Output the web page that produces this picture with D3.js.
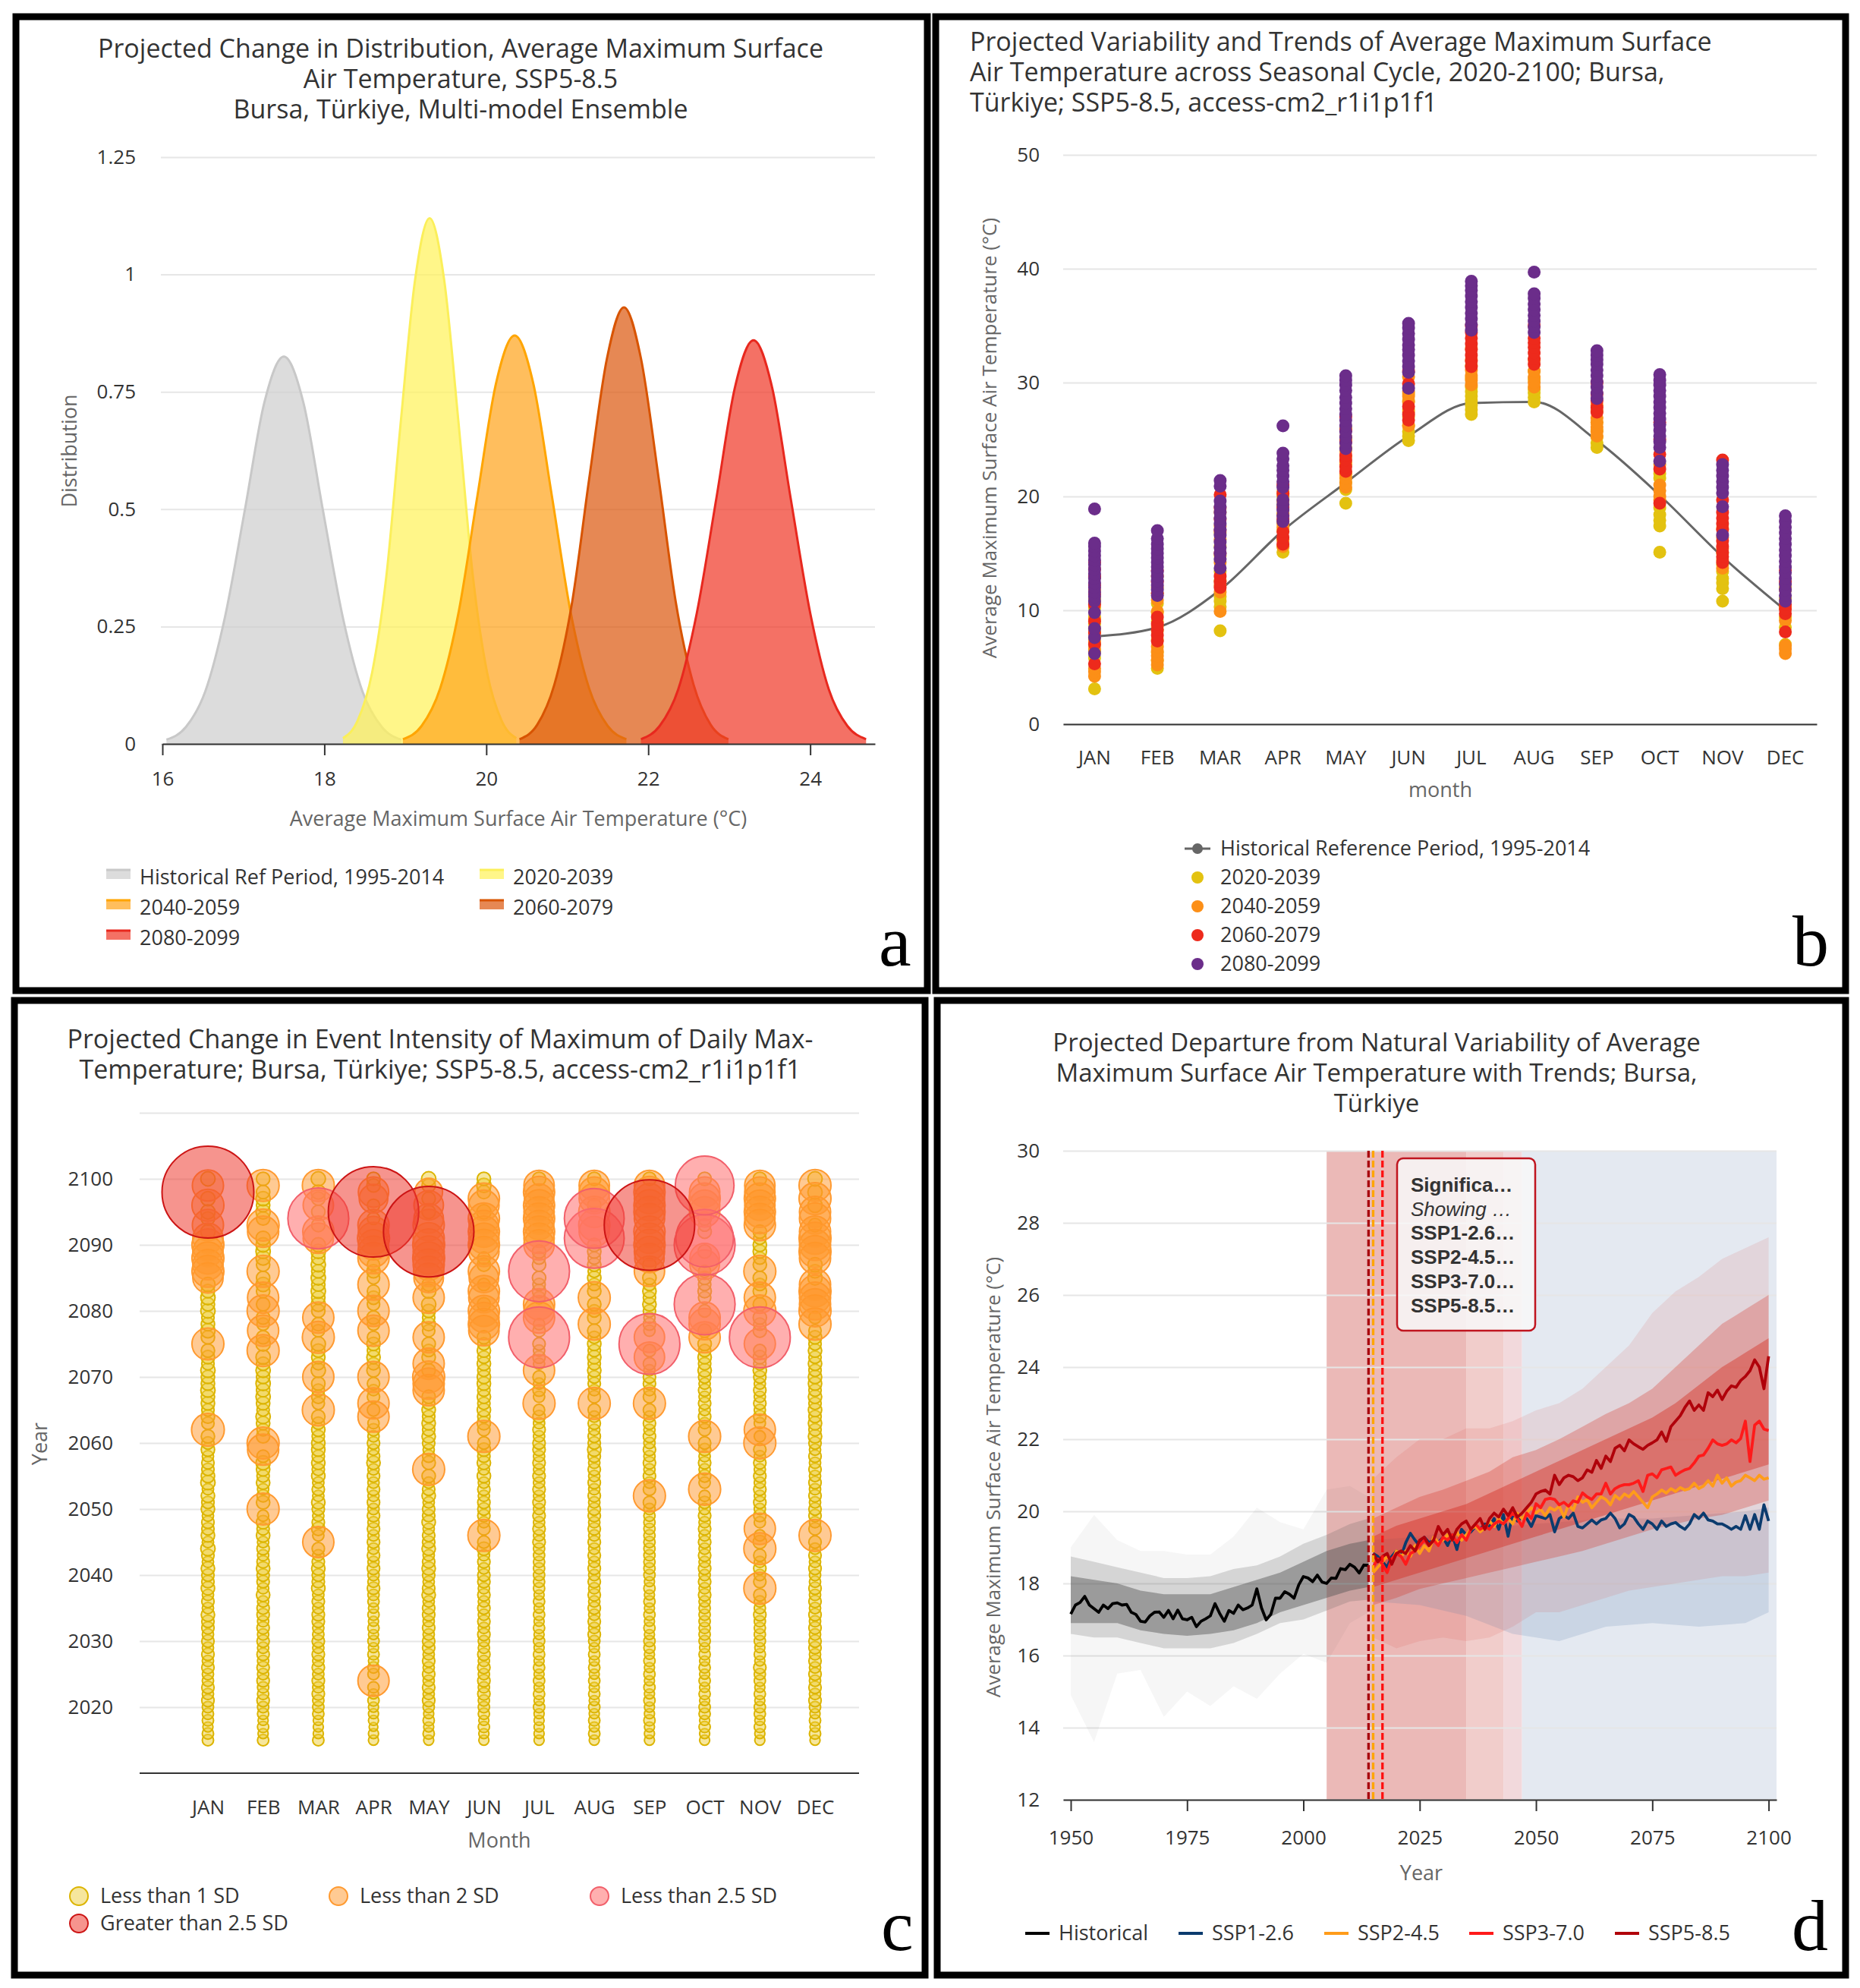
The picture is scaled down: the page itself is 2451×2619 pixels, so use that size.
<!DOCTYPE html>
<html>
<head>
<meta charset="utf-8">
<title>Bursa, Türkiye – Average Maximum Surface Air Temperature</title>
<script src="https://cdn.jsdelivr.net/npm/d3@7/dist/d3.min.js"></script>
<style>
html,body{margin:0;padding:0;background:#ffffff;}
svg{display:block;}
</style>
</head>
<body>
<svg id="chart" width="2451" height="2619" viewBox="0 0 2451 2619"></svg>
<script>
// ============================ DATA ============================
// ---- Panel a: distribution curves (temperature °C, density)
const distNames = ["Historical Ref Period, 1995-2014","2020-2039","2040-2059","2060-2079","2080-2099"];
const distTempHist = [16.05,16.29,16.53,16.77,17.02,17.26,17.5,17.74,17.98,18.23,18.47,18.71,18.95];
const distDensHist = [0.009,0.036,0.112,0.268,0.500,0.728,0.825,0.728,0.500,0.268,0.112,0.036,0.009];
const distTemp2020 = [18.23,18.41,18.59,18.77,18.94,19.12,19.3,19.48,19.66,19.83,20.01,20.19,20.37];
const distDens2020 = [0.012,0.049,0.152,0.364,0.679,0.988,1.12,0.988,0.679,0.364,0.152,0.049,0.012];
const distTemp2040 = [18.97,19.2,19.43,19.66,19.89,20.12,20.35,20.58,20.81,21.04,21.27,21.5,21.73];
const distDens2040 = [0.010,0.038,0.118,0.282,0.528,0.768,0.87,0.768,0.528,0.282,0.118,0.038,0.010];
const distTemp2060 = [20.41,20.63,20.84,21.06,21.27,21.49,21.7,21.91,22.13,22.34,22.56,22.77,22.99];
const distDens2060 = [0.010,0.041,0.126,0.302,0.564,0.821,0.93,0.821,0.564,0.302,0.126,0.041,0.010];
const distTemp2080 = [21.91,22.14,22.37,22.6,22.84,23.07,23.3,23.53,23.76,24.0,24.23,24.46,24.69];
const distDens2080 = [0.010,0.038,0.116,0.279,0.522,0.759,0.86,0.759,0.522,0.279,0.116,0.038,0.010];
const distTicksX = [16,18,20,22,24];
const distTicksY = [0,0.25,0.5,0.75,1,1.25];

// ---- Panel b: seasonal cycle
const months = ["JAN","FEB","MAR","APR","MAY","JUN","JUL","AUG","SEP","OCT","NOV","DEC"];
const histRef = [7.7,8.5,11.8,17.0,21.2,25.3,28.2,28.3,24.9,20.1,14.7,10.0];
const periodNames = ["2020-2039","2040-2059","2060-2079","2080-2099"];
const dots2020 = [
 [3.1,5.8,6.4,7.0,7.6,8.1,8.8,9.4,10.2,11.0],
 [4.9,5.6,6.3,7.4,8.2,9.0,9.8,10.6,11.5],
 [8.2,10.3,10.8,11.2,12.6,13.4,14.8,15.6,16.8],
 [15.1,15.6,16.2,17.0,17.8,18.5,19.2,20.0],
 [19.4,20.6,21.2,22.0,22.8,23.5,24.3,25.0,26.0],
 [24.9,25.3,25.7,26.2,27.0,27.6,28.4,29.0],
 [27.2,27.6,28.0,28.4,28.8,29.2,29.6,30.4,31.5],
 [28.3,28.7,29.1,29.4,30.3,31.0],
 [24.3,24.7,25.2,25.8,26.5,27.5],
 [15.1,17.4,17.9,18.4,19.0,21.6,22.0],
 [10.8,11.9,12.4,12.8,13.4,14.0,15.0],
 [7.0,8.5,9.4,10.3,11.0,12.0]
];
const dots2040 = [
 [4.2,4.6,4.9,6.6,7.3,8.4,9.2,10.6,11.8,12.9],
 [5.2,5.6,6.0,6.4,6.8,8.6,9.9,10.9,12.0,13.0],
 [9.9,11.6,12.2,14.2,16.2,17.4,18.6],
 [15.6,16.2,17.3,17.6,18.4,19.6,20.4],
 [20.8,21.2,21.6,22.0,23.0,24.0,25.2],
 [26.2,27.4,28.3,28.8,29.2,30.5],
 [29.8,30.2,30.6,31.1,32.0,33.0],
 [29.6,30.0,30.5,31.0,32.0],
 [25.3,25.7,26.1,26.5,26.9,28.0],
 [19.7,20.0,20.5,21.0,22.8],
 [13.7,14.4,15.4,16.4,17.2],
 [6.2,6.6,6.9,9.1,10.2,11.8]
];
const dots2060 = [
 [5.3,7.0,8.0,9.05,10.5,11.4,12.2,13.0,13.6,14.2],
 [7.3,7.8,8.3,8.8,9.4,11.5,12.5,13.5],
 [12.0,12.5,13.0,15.0,17.0,18.0,19.0,20.15],
 [15.8,16.4,16.9,18.0,19.0,20.25,21.0],
 [22.2,22.6,23.2,23.6,24.8,25.8,27.0],
 [26.7,27.2,27.9,29.9,31.0],
 [31.4,31.9,32.4,32.9,33.4,33.9,34.4,35.0],
 [31.6,32.1,32.6,33.1,33.5,33.9,35.0],
 [27.4,27.8,28.4,29.0,30.0],
 [19.4,22.4,23.7,25.0,26.5],
 [14.2,14.7,15.1,15.6,16.1,17.1,17.6,18.1,18.6,19.7,23.2],
 [8.1,9.7,10.1,10.5,12.5,13.5]
];
const dots2080 = [
 [6.2,7.6,8.4,9.8,10.8,11.2,11.6,12.0,12.4,12.8,13.2,13.6,14.0,14.4,14.8,15.2,15.6,15.9,18.9],
 [11.3,11.8,12.2,12.6,13.0,13.4,13.8,14.2,14.6,15.0,15.4,15.8,16.3,17.0],
 [13.7,14.5,15.0,15.5,16.0,16.6,17.1,17.6,18.1,18.6,19.1,19.6,20.9,21.4],
 [17.8,18.3,18.8,19.3,19.7,20.8,21.3,21.8,22.3,22.7,23.3,23.8,26.2],
 [24.2,24.7,25.2,25.7,26.2,26.7,27.2,27.7,28.2,28.7,29.3,29.8,30.2,30.6],
 [29.5,30.9,31.4,31.9,32.4,32.9,33.3,33.8,34.3,34.8,35.2],
 [34.6,35.1,35.6,36.1,36.6,37.1,37.6,38.1,38.5,38.9],
 [34.4,34.9,35.4,35.9,36.4,36.9,37.4,37.8,39.7],
 [28.6,29.1,29.6,30.1,30.6,31.1,31.6,32.0,32.4,32.8],
 [23.1,24.3,24.8,25.3,25.8,26.3,26.8,27.3,27.8,28.3,28.8,29.3,29.8,30.2,30.7],
 [16.6,19.1,20.3,20.8,21.3,21.8,22.3,22.8],
 [10.8,11.3,11.8,12.3,12.8,13.3,13.8,14.3,14.8,15.3,15.8,16.3,16.8,17.3,17.8,18.3]
];
const seasTicksY = [0,10,20,30,40,50];

// ---- Panel c: event intensity bubbles (years 2015..2100)
const sdClasses = ["Less than 1 SD","Less than 2 SD","Less than 2.5 SD","Greater than 2.5 SD"];
const eventFirstYear = 2015;
const eventLastYear = 2100;
// intensity of the small (< 1 SD) events, one digit per year 2015..2100 (digit/10)
const minorIntensity = [
 "55455 5656556565 6566756576 6756857665 7675876657 6786767787 7867787876 8787887878 8888788888 8",
 "54545 5655656565 6565665756 6765657675 6765767866 7767867878 7878787867 8787878788 8878787878 7",
 "54445 5565656565 6556656576 6765685765 6756576767 7676786767 7867787678 7878787878 8787878788 8",
 "44344 4545455454 5454545565 5656565656 5656565765 6565665656 6767676767 7676767676 7767676767 7",
 "45454 5656565656 6565665765 6765766576 6576578765 6767676767 7767677676 7878787878 8787878787 8",
 "44545 5565656565 5656565656 6565765656 6656575767 6767676767 7676767676 7767676767 7878787878 7",
 "44444 5454545454 5454545455 5555565656 5656565656 6565656565 6656565656 6767676767 7676767676 7",
 "45454 5454545454 5656565656 5656565656 6565656567 6656565656 6767676767 6767676767 7676767676 7",
 "44454 4545454545 5454545454 5555555555 5656565656 5656565656 6565656565 6767676767 7676767676 7",
 "44545 5454545454 5555555656 5656565656 5656565656 6565656565 6767676767 6767676767 7676767676 7",
 "44545 5454556454 5555655656 5656575656 5656565656 6565656565 6767676767 6767676767 7676767676 7",
 "45454 5656565656 6565656565 5656565656 6565656565 6767676767 7676767676 7878787878 8787878787 8"
];
// larger events per month: [year, class index (1..3), intensity]
const majorEvents = [
 [[2099,1,3.8],[2096,1,4.0],[2093,1,3.8],[2091,1,3.6],[2090,1,4.0],[2089,1,3.6],[2088,1,4.0],[2087,1,3.6],[2086,1,4.0],[2085,1,3.6],[2075,1,4.0],[2062,1,4.2],[2098,3,33]],
 [[2099,1,4.0],[2093,1,4.0],[2092,1,3.8],[2086,1,4.0],[2082,1,3.8],[2080,1,4.0],[2077,1,3.8],[2074,1,4.0],[2060,1,4.0],[2059,1,3.8],[2050,1,4.0]],
 [[2099,1,4.0],[2096,1,3.6],[2092,1,3.8],[2091,1,3.6],[2079,1,3.8],[2076,1,4.0],[2070,1,3.8],[2065,1,4.0],[2045,1,3.8],[2094,2,14.5]],
 [[2098,1,3.6],[2097,1,3.2],[2093,1,3.8],[2092,1,3.6],[2091,1,4.0],[2090,1,3.6],[2089,1,3.8],[2088,1,3.8],[2084,1,3.8],[2080,1,3.8],[2077,1,3.8],[2070,1,3.8],[2066,1,3.8],[2064,1,3.8],[2024,1,3.8],[2095,3,32]],
 [[2098,1,3.0],[2096,1,3.4],[2094,1,3.4],[2093,1,3.8],[2091,1,3.8],[2090,1,4.0],[2089,1,3.8],[2088,1,4.0],[2087,1,3.8],[2086,1,3.6],[2085,1,3.4],[2082,1,3.8],[2076,1,3.8],[2072,1,3.8],[2070,1,4.0],[2069,1,3.8],[2068,1,3.8],[2056,1,4.0],[2092,3,32]],
 [[2097,1,3.8],[2096,1,3.6],[2094,1,3.8],[2093,1,3.4],[2092,1,3.8],[2091,1,3.6],[2090,1,3.8],[2089,1,3.6],[2086,1,3.8],[2085,1,3.4],[2083,1,3.8],[2082,1,3.6],[2080,1,3.8],[2079,1,3.6],[2078,1,3.8],[2077,1,3.6],[2061,1,4.0],[2046,1,4.0]],
 [[2099,1,3.6],[2098,1,3.8],[2097,1,3.4],[2096,1,3.8],[2095,1,3.6],[2094,1,3.8],[2093,1,3.4],[2092,1,3.8],[2091,1,3.6],[2090,1,3.6],[2081,1,3.8],[2080,1,3.6],[2079,1,3.8],[2071,1,3.8],[2066,1,4.0],[2086,2,14.5],[2076,2,14.5]],
 [[2099,1,3.6],[2098,1,3.6],[2097,1,3.6],[2095,1,3.8],[2093,1,3.8],[2092,1,3.6],[2082,1,4.0],[2078,1,4.0],[2066,1,4.0],[2094,2,14],[2091,2,14]],
 [[2099,1,3.6],[2098,1,3.8],[2097,1,3.6],[2096,1,3.8],[2095,1,3.8],[2094,1,3.6],[2092,1,3.8],[2091,1,3.6],[2090,1,3.8],[2089,1,3.6],[2088,1,3.4],[2086,1,3.6],[2076,1,3.6],[2073,1,3.6],[2066,1,4.0],[2052,1,4.0],[2093,3,32],[2075,2,14.5]],
 [[2098,1,3.6],[2097,1,3.8],[2096,1,3.6],[2095,1,3.6],[2088,1,3.4],[2087,1,3.4],[2079,1,3.8],[2078,1,3.8],[2076,1,3.8],[2061,1,4.0],[2053,1,4.0],[2099,2,13.5],[2091,2,13],[2090,2,14.5],[2081,2,14.5]],
 [[2099,1,3.6],[2098,1,3.6],[2097,1,3.8],[2096,1,3.6],[2095,1,3.8],[2094,1,3.6],[2093,1,3.8],[2086,1,4.0],[2082,1,3.8],[2080,1,4.0],[2075,1,3.8],[2062,1,3.8],[2060,1,4.0],[2047,1,3.8],[2044,1,4.0],[2038,1,4.0],[2076,2,14.5]],
 [[2099,1,4.0],[2097,1,4.0],[2095,1,3.8],[2094,1,3.8],[2092,1,3.8],[2091,1,4.0],[2090,1,3.8],[2089,1,4.0],[2088,1,3.8],[2084,1,3.8],[2083,1,4.0],[2082,1,3.8],[2081,1,3.8],[2080,1,4.0],[2078,1,4.0],[2046,1,4.0]]
];
const eventTicksY = [2020,2030,2040,2050,2060,2070,2080,2090,2100,2110];

// ---- Panel d: departure from natural variability
const histStart = 1950;
const histMean = [17.15,17.4,17.47,17.64,17.4,17.3,17.2,17.4,17.3,17.44,
 17.46,17.4,17.42,17.2,17.14,16.95,16.93,17.1,17.2,17.21,
 17.06,17.25,17.02,17.26,17.02,16.99,17.06,16.8,16.95,17.02,
 17.1,17.44,17.17,16.95,17.25,17.17,17.4,17.27,17.32,17.4,
 17.85,17.32,16.99,17.14,17.59,17.59,17.77,17.7,17.59,17.96,
 18.19,18.15,18.05,18.23,18.04,18.0,18.15,18.14,18.41,18.38,
 18.53,18.45,18.29,18.51,18.5];
const sspStart = 2015;
const ssp126 = [18.83,18.75,18.6,18.45,18.75, 18.9,18.75,19.13,19.39,19.2, 19.05,19.28,19.13,19.2,19.13,
 19.28,19.05,19.35,18.94,19.5, 19.35,19.43,19.58,19.5,19.65, 19.58,19.8,19.5,19.91,19.31,
 19.95,19.73,19.84,19.8,19.58, 19.88,19.84,19.8,19.91,19.43, 19.8,19.88,19.8,19.95,19.58,
 19.54,19.65,19.76,19.65,19.76, 19.8,19.95,19.8,19.54,19.65, 19.91,19.84,19.65,19.5,19.73,
 19.65,19.5,19.73,19.58,19.65, 19.69,19.58,19.5,19.65,19.91, 19.8,19.95,19.76,19.73,19.65,
 19.65,19.58,19.5,19.58,19.5, 19.88,19.5,19.91,19.5,20.18, 19.73];
const ssp245 = [18.3,18.45,18.6,18.75,18.6, 18.9,18.75,18.9,18.75,19.05, 18.83,19.05,18.9,19.28,19.13,
 19.2,19.35,19.2,19.43,19.2, 19.35,19.5,19.58,19.43,19.54, 19.73,19.58,19.8,19.65,19.8,
 19.65,19.95,19.8,19.95,20.1, 19.95,20.06,19.88,20.1,20.03, 20.14,19.84,20.18,20.03,20.4,
 20.25,20.33,20.1,20.25,20.4, 20.33,20.18,20.44,20.33,20.48, 20.4,20.55,20.4,20.25,20.1,
 20.4,20.48,20.59,20.51,20.63, 20.55,20.66,20.59,20.63,20.78, 20.63,20.7,20.85,20.7,21.0,
 20.78,20.93,20.7,20.81,20.85, 21.0,20.93,20.85,21.0,20.89, 20.93];
const ssp370 = [18.45,18.68,18.53,18.3,18.68, 18.83,18.75,18.53,18.83,18.9, 19.05,19.2,19.05,19.2,19.05,
 19.28,19.2,19.35,19.13,19.35, 19.2,19.5,19.65,19.5,19.58, 19.5,19.65,19.73,19.65,19.8,
 19.95,19.8,19.58,19.95,19.8, 20.21,20.1,20.33,20.36,20.33, 20.18,20.25,20.14,20.29,20.25,
 20.51,20.4,20.33,20.48,20.48, 20.78,20.48,20.63,20.7,20.74, 20.74,20.78,20.85,20.55,21.0,
 21.04,20.93,21.15,21.19,21.23, 21.0,21.08,21.15,21.19,21.34, 21.53,21.56,21.75,21.98,21.87,
 21.83,21.87,21.98,21.9,22.02, 22.5,21.38,22.39,22.5,22.28, 22.24];
const ssp585 = [18.83,18.6,18.75,18.83,18.53, 18.83,18.9,18.83,19.05,18.9, 19.2,19.28,19.05,19.2,19.58,
 19.35,19.5,19.2,19.5,19.65, 19.73,19.5,19.65,19.8,19.5, 19.8,19.95,19.84,20.06,19.88,
 20.1,19.84,19.95,20.1,20.25, 20.48,20.55,20.59,20.48,21.0, 20.74,20.93,21.0,20.96,20.85,
 20.93,21.15,21.08,21.41,21.19, 21.53,21.38,21.75,21.83,21.68, 21.98,21.87,21.79,21.72,21.83,
 21.9,21.98,22.2,21.94,22.35, 22.5,22.65,22.88,23.06,22.8, 22.95,22.8,23.29,23.18,23.36,
 23.1,23.33,23.48,23.44,23.63, 23.74,23.9,24.2,24.0,23.4, 24.3];
const scenarioNames = ["Historical","SSP1-2.6","SSP2-4.5","SSP3-7.0","SSP5-8.5"];
// ensemble spread (model members)
const histEnsYears = [1950,1955,1960,1965,1970,1975,1980,1985,1990,1995,2000,2005,2010,2014];
const histEnsOuterLo = [14.9,13.6,15.5,15.6,14.3,15.0,14.6,15.15,14.8,15.5,16.05,15.8,16.9,17.2];
const histEnsOuterHi = [19.0,19.9,19.2,18.9,18.9,18.8,18.8,19.3,20.1,19.7,19.5,20.6,20.7,20.4];
const histEnsInnerLo = [16.6,16.5,16.5,16.35,16.2,16.2,16.2,16.35,16.6,16.9,17.0,17.25,17.5,17.55];
const histEnsInnerHi = [18.75,18.6,18.45,18.3,18.15,18.15,18.2,18.4,18.5,18.75,19.1,19.35,19.65,19.8];
const histEnsCoreLo = [16.9,16.9,16.9,16.7,16.6,16.55,16.6,16.7,16.9,17.2,17.4,17.6,17.8,17.9];
const histEnsCoreHi = [18.2,18.1,18.0,17.8,17.7,17.7,17.7,17.9,18.1,18.3,18.6,18.9,19.1,19.2];
const futEnsYears = [2015,2020,2025,2030,2035,2040,2045,2050,2055,2060,2065,2070,2075,2080,2085,2090,2095,2100];
const futEnsOuterLo = [16.5,16.2,16.4,16.5,16.4,16.5,16.8,17.2,17.2,17.4,17.6,17.8,17.9,18.0,18.1,18.2,18.2,18.3];
const futEnsOuterHi = [20.9,21.5,22.0,22.0,22.3,22.3,22.5,22.8,23.0,23.4,24.0,24.6,25.5,26.1,26.5,27.0,27.3,27.6];
const futEnsInnerLo = [17.4,17.6,17.85,18.0,18.15,18.3,18.45,18.6,18.75,18.9,19.1,19.3,19.5,19.65,19.8,19.9,20.1,20.3];
const futEnsInnerHi = [19.8,20.1,20.4,20.6,20.85,21.1,21.5,21.7,22.0,22.35,22.7,23.0,23.4,24.0,24.6,25.2,25.6,26.0];
const futEnsCoreLo = [17.9,18.1,18.3,18.5,18.7,18.9,19.1,19.3,19.5,19.7,19.9,20.1,20.3,20.5,20.7,20.9,21.1,21.3];
const futEnsCoreHi = [19.3,19.6,19.8,20.0,20.2,20.5,20.8,21.1,21.4,21.7,22.0,22.3,22.6,23.0,23.5,24.0,24.4,24.8];
const lowEnsYears = [2015,2025,2035,2045,2055,2065,2075,2085,2095,2100];
const lowEnsLo = [17.5,17.4,17.1,16.6,16.4,16.8,16.9,16.8,16.9,17.2];
const lowEnsHi = [19.2,19.3,19.5,19.6,19.7,19.8,19.8,19.9,20.0,20.1];
const sigBandFrom = [2005,2035,2043,2047];
const sigBandTo = [2035,2043,2047,2101.7];
const emergenceYears = [2014,2015,2017];
const tooltipLines = ["Significa…","Showing …","SSP1-2.6…","SSP2-4.5…","SSP3-7.0…","SSP5-8.5…"];
const depTicksX = [1950,1975,2000,2025,2050,2075,2100];
const depTicksY = [12,14,16,18,20,22,24,26,28,30];

// ============================ DRAWING ============================
const FONT = "'Open Sans','Noto Sans','DejaVu Sans',sans-serif";
const svg = d3.select("#chart");
svg.append("rect").attr("width",2451).attr("height",2619).attr("fill","#ffffff");

function txt(sel, x, y, s, o) {
  o = o || {};
  const t = sel.append("text").attr("x",x).attr("y",y)
    .attr("font-family", o.family || FONT).attr("font-size", o.size || 26)
    .attr("fill", o.fill || "#333333").attr("text-anchor", o.anchor || "start")
    .attr("font-weight", o.weight || "normal").attr("font-style", o.style || "normal")
    .text(s);
  if (o.rotate) t.attr("transform", `rotate(-90 ${x} ${y})`);
  return t;
}
// multi-line title drawn as ONE text element with tspans
function title(sel, arr, x, y0, lh, anchor, size) {
  const t = sel.append("text").attr("font-family", FONT).attr("font-size", size)
    .attr("fill", "#333333").attr("text-anchor", anchor);
  arr.forEach((s, i) => t.append("tspan").attr("x", x).attr("y", y0 + i * lh).text(s));
  return t;
}
function styleTicks(g, size) {
  g.attr("font-family", null).attr("font-size", null);
  g.selectAll(".tick text").attr("font-family", FONT).attr("font-size", size || 26).attr("fill", "#333333");
}
function gridAxis(g, scale, ticks, x0, width, pad, fmt) {
  const a = g.append("g").attr("transform", `translate(${x0},0)`)
    .call(d3.axisLeft(scale).tickValues(ticks).tickSize(-width).tickPadding(pad).tickFormat(fmt));
  a.select(".domain").remove();
  a.selectAll(".tick line").attr("stroke", "#e6e6e6").attr("stroke-width", 2);
  styleTicks(a, 26);
  return a;
}

// ------------------------------------------------------------ Panel a
{
  const g = svg.append("g");
  const x = d3.scaleLinear().domain([16, 24.8]).range([214, 1153]);
  const y = d3.scaleLinear().domain([0, 1.25]).range([980, 207]);
  gridAxis(g, y, distTicksY, 212, 941, 33, d => String(d));

  const temps = [distTempHist, distTemp2020, distTemp2040, distTemp2060, distTemp2080];
  const dens = [distDensHist, distDens2020, distDens2040, distDens2060, distDens2080];
  const fills = ["#cfcfcf","#fff35c","#ffa51f","#dd5a12","#f03a2a"];
  const strokes = ["#c8c8c8","#fbef5a","#ffa500","#d85400","#e8281e"];
  const area = d3.area().x(d => x(d[0])).y0(y(0)).y1(d => y(d[1])).curve(d3.curveMonotoneX);
  const line = d3.line().x(d => x(d[0])).y(d => y(d[1])).curve(d3.curveMonotoneX);
  temps.forEach((tv, i) => {
    const pts = tv.map((t, j) => [t, dens[i][j]]);
    g.append("path").datum(pts).attr("d", area).attr("fill", fills[i]).attr("fill-opacity", 0.72);
    g.append("path").datum(pts).attr("d", line).attr("fill", "none").attr("stroke", strokes[i]).attr("stroke-width", 3);
  });

  const ax = g.append("g").attr("transform", "translate(0,980)")
    .call(d3.axisBottom(x).tickValues(distTicksX).tickSize(15).tickPadding(22).tickSizeOuter(0));
  ax.select(".domain").attr("stroke", "#333").attr("stroke-width", 2);
  ax.selectAll(".tick line").attr("stroke", "#333").attr("stroke-width", 2);
  styleTicks(ax, 26);

  title(g, ["Projected Change in Distribution, Average Maximum Surface","Air Temperature, SSP5-8.5","Bursa, Türkiye, Multi-model Ensemble"], 607, 76, 40, "middle", 34);
  txt(g, 683, 1088, "Average Maximum Surface Air Temperature (°C)", {size:27, anchor:"middle", fill:"#666666"});
  txt(g, 101, 594, "Distribution", {size:27, anchor:"middle", fill:"#666666", rotate:true});

  const legPos = [[140,1165],[632,1165],[140,1205],[632,1205],[140,1245]];
  distNames.forEach((n, i) => {
    const [lx, ly] = legPos[i];
    g.append("rect").attr("x", lx).attr("y", ly - 19).attr("width", 32).attr("height", 12)
      .attr("fill", fills[i]).attr("fill-opacity", 0.72);
    g.append("line").attr("x1", lx).attr("x2", lx + 32).attr("y1", ly - 19).attr("y2", ly - 19)
      .attr("stroke", strokes[i]).attr("stroke-width", 3);
    txt(g, lx + 44, ly, n, {size:27});
  });
}

// ------------------------------------------------------------ Panel b
{
  const g = svg.append("g");
  const x = d3.scaleBand().domain(months).range([1401, 2394]);
  const y = d3.scaleLinear().domain([0, 50]).range([954, 204]);
  gridAxis(g, y, seasTicksY, 1401, 993, 31, d => String(d));

  const cx = m => x(m) + x.bandwidth() / 2;
  const hline = d3.line().x((d, i) => cx(months[i])).y(d => y(d)).curve(d3.curveMonotoneX);
  g.append("path").datum(histRef).attr("d", hline).attr("fill", "none").attr("stroke", "#666666").attr("stroke-width", 3);
  g.selectAll(".hm").data(histRef).enter().append("circle")
    .attr("cx", (d, i) => cx(months[i])).attr("cy", d => y(d)).attr("r", 6).attr("fill", "#666666");

  const sets = [dots2020, dots2040, dots2060, dots2080];
  const cols = ["#e3c210","#fc8f17","#ed2a1c","#6b2d8a"];
  sets.forEach((set, p) => {
    const pts = [];
    set.forEach((vals, mi) => vals.forEach(v => pts.push([months[mi], v])));
    g.append("g").selectAll("circle").data(pts).enter().append("circle")
      .attr("cx", d => cx(d[0])).attr("cy", d => y(d[1])).attr("r", 8.5).attr("fill", cols[p]);
  });

  const ax = g.append("g").attr("transform", "translate(0,954)")
    .call(d3.axisBottom(x).tickSize(0).tickPadding(34.5).tickSizeOuter(0));
  ax.select(".domain").attr("stroke", "#333").attr("stroke-width", 2);
  styleTicks(ax, 26);

  title(g, ["Projected Variability and Trends of Average Maximum Surface","Air Temperature across Seasonal Cycle, 2020-2100; Bursa,","Türkiye; SSP5-8.5, access-cm2_r1i1p1f1"], 1278, 66.5, 40, "start", 34);
  txt(g, 1898, 1050, "month", {size:27, anchor:"middle", fill:"#666666"});
  txt(g, 1313, 577, "Average Maximum Surface Air Temperature (°C)", {size:26, anchor:"middle", fill:"#666666", rotate:true});

  const legY = [1127, 1165, 1203, 1241, 1279];
  g.append("line").attr("x1", 1561).attr("x2", 1595).attr("y1", legY[0] - 9).attr("y2", legY[0] - 9)
    .attr("stroke", "#666666").attr("stroke-width", 3);
  g.append("circle").attr("cx", 1578).attr("cy", legY[0] - 9).attr("r", 7).attr("fill", "#666666");
  txt(g, 1608, legY[0], "Historical Reference Period, 1995-2014", {size:27});
  periodNames.forEach((n, i) => {
    g.append("circle").attr("cx", 1578).attr("cy", legY[i + 1] - 9).attr("r", 8).attr("fill", cols[i]);
    txt(g, 1608, legY[i + 1], n, {size:27});
  });
}

// ------------------------------------------------------------ Panel c
{
  const g = svg.append("g");
  const x = d3.scalePoint().domain(months).range([274, 1074]);
  const y = d3.scaleLinear().domain([2010, 2110]).range([2336, 1466]);
  const r = d3.scaleSqrt().domain([0, 36]).range([0, 63.2]);
  gridAxis(g, y, eventTicksY, 184, 948, 35, d => d === 2110 ? "" : d3.format("d")(d));

  const fills = ["rgba(238,205,60,0.5)","rgba(255,150,40,0.5)","rgba(255,110,110,0.55)","rgba(238,60,50,0.55)"];
  const strokes = ["#dcb400","#ff9a30","#f25f6a","#cc1414"];
  const byClass = [[],[],[],[]];
  months.forEach((m, mi) => {
    const digits = minorIntensity[mi].replace(/ /g, "");
    const major = new Map(majorEvents[mi].map(e => [e[0], e]));
    for (let yr = eventFirstYear; yr <= eventLastYear; yr++) {
      const e = major.get(yr);
      if (e) byClass[e[1]].push({m, yr, z: e[2]});
      else byClass[0].push({m, yr, z: +digits[yr - eventFirstYear] / 10});
    }
  });
  byClass.forEach((pts, c) => {
    g.append("g").selectAll("circle").data(pts).enter().append("circle")
      .attr("cx", d => x(d.m)).attr("cy", d => y(d.yr)).attr("r", d => r(d.z))
      .attr("fill", fills[c]).attr("stroke", strokes[c]).attr("stroke-width", 2);
  });

  const ax = g.append("g").attr("transform", "translate(0,2336)")
    .call(d3.axisBottom(x).tickSize(0).tickPadding(35.5).tickSizeOuter(0));
  ax.select(".domain").remove();
  g.append("line").attr("x1", 184).attr("x2", 1132).attr("y1", 2336).attr("y2", 2336).attr("stroke", "#333").attr("stroke-width", 2);
  styleTicks(ax, 26);

  title(g, ["Projected Change in Event Intensity of Maximum of Daily Max-","Temperature; Bursa, Türkiye; SSP5-8.5, access-cm2_r1i1p1f1"], 580, 1381, 40, "middle", 34);
  txt(g, 658, 2434, "Month", {size:27, anchor:"middle", fill:"#666666"});
  txt(g, 62, 1902, "Year", {size:27, anchor:"middle", fill:"#666666", rotate:true});

  const legPos = [[104,2507],[446,2507],[790,2507],[104,2543]];
  sdClasses.forEach((n, i) => {
    const [lx, ly] = legPos[i];
    g.append("circle").attr("cx", lx).attr("cy", ly - 9).attr("r", 12)
      .attr("fill", fills[i]).attr("stroke", strokes[i]).attr("stroke-width", 2);
    txt(g, lx + 28, ly, n, {size:27});
  });
}

// ------------------------------------------------------------ Panel d
{
  const g = svg.append("g");
  const x = d3.scaleLinear().domain([1948.37, 2101.7]).range([1401, 2341]);
  const y = d3.scaleLinear().domain([12, 30]).range([2371, 1516]);
  const bandCols = ["#ebb9b7","#f1cdcb","#f2d9dc","#e4e9f1"];
  sigBandFrom.forEach((f, i) => {
    g.append("rect").attr("x", x(f)).attr("width", x(sigBandTo[i]) - x(f))
      .attr("y", y(30)).attr("height", y(12) - y(30)).attr("fill", bandCols[i]);
  });
  gridAxis(g, y, depTicksY, 1401, 940, 31, d => String(d));

  function band(years, lo, hi, color, op) {
    const pts = years.map((yr, i) => [yr, lo[i], hi[i]]);
    g.append("path").datum(pts)
      .attr("d", d3.area().x(d => x(d[0])).y0(d => y(d[1])).y1(d => y(d[2])))
      .attr("fill", color).attr("fill-opacity", op);
  }
  band(histEnsYears, histEnsOuterLo, histEnsOuterHi, "#555555", 0.05);
  band(histEnsYears, histEnsInnerLo, histEnsInnerHi, "#555555", 0.2);
  band(histEnsYears, histEnsCoreLo, histEnsCoreHi, "#555555", 0.45);
  band(lowEnsYears, lowEnsLo, lowEnsHi, "#6d8fb8", 0.22);
  band(futEnsYears, futEnsOuterLo, futEnsOuterHi, "#d42a1e", 0.1);
  band(futEnsYears, futEnsInnerLo, futEnsInnerHi, "#d42a1e", 0.28);
  band(futEnsYears, futEnsCoreLo, futEnsCoreHi, "#d42a1e", 0.42);

  const mline = d3.line().x(d => x(d[0])).y(d => y(d[1]));
  const series = [[histStart, histMean], [sspStart, ssp126], [sspStart, ssp245], [sspStart, ssp370], [sspStart, ssp585]];
  const lcols = ["#000000","#0b3b6e","#ff9c1a","#ff1a1a","#b0000a"];
  series.forEach((s, i) => {
    const pts = s[1].map((v, k) => [s[0] + k, v]);
    g.append("path").datum(pts).attr("d", mline).attr("fill", "none").attr("stroke", lcols[i])
      .attr("stroke-width", 3.8).attr("stroke-linejoin", "round");
  });

  const dcols = ["#a8000c","#ffa500","#ff1010"];
  emergenceYears.forEach((yr, i) => {
    g.append("line").attr("x1", x(yr)).attr("x2", x(yr)).attr("y1", y(30)).attr("y2", y(12))
      .attr("stroke", dcols[i]).attr("stroke-width", 3.3).attr("stroke-dasharray", "9,4");
  });

  const ax = g.append("g").attr("transform", "translate(0,2371)")
    .call(d3.axisBottom(x).tickValues(depTicksX).tickSize(15).tickPadding(25.5).tickSizeOuter(0).tickFormat(d3.format("d")));
  ax.select(".domain").attr("stroke", "#333").attr("stroke-width", 2);
  ax.selectAll(".tick line").attr("stroke", "#333").attr("stroke-width", 2);
  styleTicks(ax, 26);

  // tooltip
  g.append("rect").attr("x", 1841).attr("y", 1526).attr("width", 182).attr("height", 227).attr("rx", 8)
    .attr("fill", "rgba(248,248,248,0.86)").attr("stroke", "#c0151f").attr("stroke-width", 2.5);
  const tt = g.append("text").attr("font-family", "'Liberation Sans',Arial,Helvetica,sans-serif")
    .attr("font-size", 26).attr("fill", "#333333");
  tooltipLines.forEach((s, i) => {
    tt.append("tspan").attr("x", 1859).attr("y", 1570 + i * 31.7)
      .attr("font-weight", i === 1 ? "normal" : "bold").attr("font-style", i === 1 ? "italic" : "normal").text(s);
  });

  title(g, ["Projected Departure from Natural Variability of Average","Maximum Surface Air Temperature with Trends; Bursa,","Türkiye"], 1814, 1385, 40, "middle", 33);
  txt(g, 1873, 2477, "Year", {size:27, anchor:"middle", fill:"#666666"});
  txt(g, 1318, 1946, "Average Maximum Surface Air Temperature (°C)", {size:26, anchor:"middle", fill:"#666666", rotate:true});

  const legX = [1351, 1553, 1745, 1936, 2128];
  scenarioNames.forEach((n, i) => {
    g.append("line").attr("x1", legX[i]).attr("x2", legX[i] + 32).attr("y1", 2547).attr("y2", 2547)
      .attr("stroke", lcols[i]).attr("stroke-width", 4);
    txt(g, legX[i] + 44, 2556, n, {size:27});
  });
}

// ------------------------------------------------------------ frames and panel letters
const frames = [[21,22,1201,1283],[1233,22,1199,1283],[19,1318,1200,1284],[1235,1318,1197,1284]];
frames.forEach(f => svg.append("rect").attr("x", f[0]).attr("y", f[1]).attr("width", f[2]).attr("height", f[3])
  .attr("fill", "none").attr("stroke", "#000").attr("stroke-width", 9));
const letters = [["a",1158,1272],["b",2362,1272],["c",1161,2569],["d",2361,2569]];
letters.forEach(l => txt(svg, l[1], l[2], l[0], {size:96, family:"'Liberation Serif','Times New Roman',serif", fill:"#000"}));
</script>
</body>
</html>
